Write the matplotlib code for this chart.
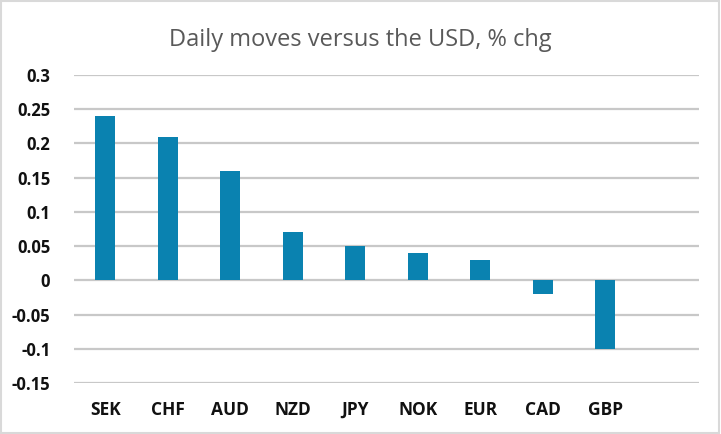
import numpy as np
import matplotlib.pyplot as plt

currencies = ['SEK', 'CHF', 'AUD', 'NZD', 'JPY', 'NOK', 'EUR', 'CAD', 'GBP']
moves = [0.24, 0.21, 0.16, 0.07, 0.05, 0.04, 0.03, -0.02, -0.10]
yticks = [-0.15, -0.1, -0.05, 0, 0.05, 0.1, 0.15, 0.2, 0.25, 0.3]
ytick_labels = ['-0.15', '-0.1', '-0.05', '0', '0.05', '0.1', '0.15', '0.2', '0.25', '0.3']

plt.rcParams['font.family'] = ['Open Sans', 'DejaVu Sans']

fig = plt.figure(figsize=(7.21, 4.34), dpi=100)
ax = fig.add_axes([0.1026, 0.1175, 0.8669, 0.7097])

x = np.arange(len(currencies))
ax.bar(x, moves, width=0.32, color='#0A82B0', zorder=3)

ax.set_xlim(-0.5, 9.5)
ax.set_ylim(-0.15, 0.3)
ax.set_yticks(yticks)
ax.set_yticklabels(ytick_labels, fontsize=12, fontweight='bold', color='#111111')
ax.set_xticks(x)
ax.set_xticklabels(currencies, fontsize=12.5, fontweight='bold', color='#111111')
ax.tick_params(axis='y', length=0, pad=17)
ax.tick_params(axis='x', length=0, pad=13)

ax.grid(axis='y', color='#C8C8C8', linewidth=1.6, zorder=0)
for s in ax.spines.values():
    s.set_visible(False)

fig.suptitle('Daily moves versus the USD, % chg', x=0.5, y=0.935,
             fontsize=17, color='#595959')

fig.patches.append(plt.Rectangle((0.002, 0.003), 0.995, 0.994, transform=fig.transFigure,
                                 fill=False, edgecolor='#D9D9D9', linewidth=1.5))

fig.savefig('out.png', dpi=100)
